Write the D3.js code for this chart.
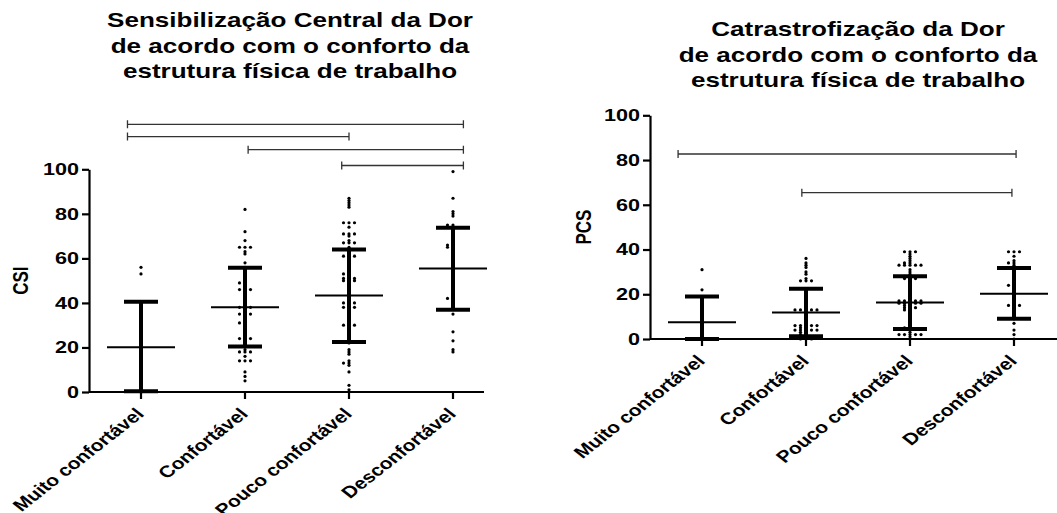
<!DOCTYPE html>
<html>
<head>
<meta charset="utf-8">
<script src="https://cdn.jsdelivr.net/npm/d3@7"></script>
<style>
	body { margin: 0; background: #fff; }
	text { font-family: Arial, "Liberation Sans", sans-serif; font-weight: bold; fill: #000; }
</style>
</head>
<body>
<svg id="chart" width="1057" height="513"></svg>
<script>

const categories = ['Muito confortável', 'Confortável', 'Pouco confortável', 'Desconfortável']

//CSI - individual scores per group
const csiMuito = [56, 53, 8, 1, 0]
const csiConfortavel = [82, 72, 68, 65, 65, 65, 63, 62, 58, 56, 55, 53, 51, 49, 49, 48, 47, 46, 46, 46, 44, 42, 41, 40, 39, 38, 38, 38, 37, 36, 35, 35, 35, 33, 31, 31, 30, 29, 27, 25, 24, 24, 24, 21, 19, 18, 18, 18, 16, 14, 14, 14, 9, 7, 5]
const csiPouco = [87, 86, 85, 84, 83, 76, 76, 76, 74, 71, 71, 71, 70, 68, 67, 67, 67, 65, 62, 61, 61, 61, 60, 59, 57, 56, 55, 54, 53, 53, 52, 51, 51, 51, 50, 50, 50, 48, 47, 46, 44, 43, 42, 41, 40, 40, 40, 39, 38, 38, 38, 37, 35, 34, 33, 31, 30, 30, 30, 29, 28, 27, 25, 23, 22, 19, 18, 17, 14, 13, 13, 12, 9, 3, 1]
const csiDesconfortavel = [99, 87, 81, 80, 79, 75, 75, 74, 70, 68, 66, 66, 65, 65, 62, 60, 57, 55, 52, 48, 47, 43, 42, 42, 40, 35, 27, 23, 19, 18]
const csiMeans = [20.1, 38.1, 43.3, 55.5]
const csiSdHigh = [40.5, 55.8, 64, 73.8]
const csiSdLow = [0.3, 20.4, 22.5, 36.9]
//significance brackets: [from group, to group, height]
const csiBrackets = [[-0.13, 3.1, 120.2], [-0.13, 2.0, 114.7], [1.03, 3.1, 108.8], [1.93, 3.1, 101.7]]

//PCS - individual scores per group
const pcsMuito = [31, 22, 0, 0, 0]
const pcsConfortavel = [36, 34, 33, 32, 30, 29, 27, 26, 26, 26, 21, 20, 19, 18, 17, 16, 14, 13, 13, 13, 13, 13, 12, 10, 9, 8, 7, 6, 6, 6, 6, 6, 5, 5, 4, 4, 4, 4, 4, 3, 3, 2, 2, 1, 1, 0, 0, 0]
const pcsPouco = [39, 39, 39, 38, 37, 36, 35, 34, 34, 33, 33, 33, 33, 33, 31, 30, 29, 28, 28, 27, 27, 27, 26, 25, 24, 23, 22, 21, 20, 19, 18, 17, 17, 17, 17, 17, 16, 16, 16, 16, 16, 15, 15, 14, 14, 14, 13, 13, 12, 11, 10, 9, 8, 7, 6, 5, 5, 4, 3, 2, 2, 2, 2, 2, 1]
const pcsDesconfortavel = [39, 39, 39, 37, 35, 34, 34, 33, 32, 31, 30, 29, 28, 27, 26, 25, 24, 24, 22, 21, 20, 19, 18, 17, 16, 15, 15, 15, 12, 11, 10, 9, 7, 4, 2, 0]
const pcsMeans = [7.5, 11.8, 16.3, 20.2]
const pcsSdHigh = [19, 22.5, 28, 31.7]
const pcsSdLow = [0, 1.2, 4.5, 9]
const pcsBrackets = [[-0.23, 3.02, 82.7], [0.96, 2.98, 65.4]]

const yTicks = [0, 20, 40, 60, 80, 100]

//the original picture is stretched horizontally, texts follow that
const SX = 1.27

const svg = d3.select('#chart')

function drawPanel(p) {
	const g = svg.append('g')

	const x = d3.scaleBand().domain(categories).range([p.left, p.right])
	const y = d3.scaleLinear().domain([0, 100]).range([p.bottom, p.top])
	const xc = d => x(d) + x.bandwidth()/2
	const xPos = d3.scaleLinear().domain([0, 3]).range([xc(categories[0]), xc(categories[3])])

	//title
	p.title.forEach((line, i) => {
		g.append('text')
			.attr('text-anchor', 'middle')
			.attr('font-size', 20.5)
			.attr('transform', 'translate('+p.titleX+','+(p.titleY+i*25.5)+') scale('+SX+',1)')
			.text(line)
	})

	//y axis label
	g.append('text')
		.attr('text-anchor', 'middle')
		.attr('font-size', 17)
		.attr('transform', 'translate('+p.labelX+','+((p.top+p.bottom)/2)+') scale('+SX+',1) rotate(-90)')
		.attr('dy', '0.35em')
		.text(p.label)

	//y axis
	const yAxis = g.append('g')
		.attr('transform', 'translate('+p.left+',0)')
		.call(d3.axisLeft(y).tickValues(yTicks).tickSize(7).tickSizeOuter(0))
	yAxis.select('.domain').attr('stroke-width', 2.2)
	yAxis.selectAll('.tick line').attr('stroke-width', 2.2)
	yAxis.selectAll('.tick text')
		.attr('font-size', 17)
		.attr('font-family', null)
		.attr('x', -10/SX)
		.attr('transform', 'scale('+SX+',1)')

	//x axis
	const xAxis = g.append('g')
		.attr('transform', 'translate(0,'+p.bottom+')')
		.call(d3.axisBottom(x).tickSize(7).tickSizeOuter(0))
	xAxis.select('.domain').attr('stroke-width', 2.2).attr('d', 'M'+p.left+',0H'+p.axisEnd)
	xAxis.selectAll('.tick line').attr('stroke-width', 2.2)
	xAxis.selectAll('.tick text')
		.attr('font-size', 16.5)
		.attr('font-family', null)
		.attr('y', null)
		.attr('dy', null)
		.attr('text-anchor', 'end')
		.attr('transform', 'translate(4,23) scale('+SX+',1) rotate(-45)')

	//scatter points, equal values spread sideways
	p.points.forEach((vals, i) => {
		const counts = {}
		vals.forEach(v => {
			const k = counts[v] || 0
			counts[v] = k+1
			const side = k == 0 ? 0 : (k % 2 == 1 ? -1 : 1)*Math.ceil(k/2)
			g.append('circle')
				.attr('cx', xc(categories[i]) + side*5.5)
				.attr('cy', y(v))
				.attr('r', 1.6)
				.attr('fill', '#000')
		})
	})

	//mean and SD
	categories.forEach((c, i) => {
		const cx = xc(c)
		g.append('line').attr('x1', cx).attr('x2', cx)
			.attr('y1', y(p.sdLow[i])).attr('y2', y(p.sdHigh[i]))
			.attr('stroke', '#000').attr('stroke-width', 4)
		;[p.sdLow[i], p.sdHigh[i]].forEach(v => {
			g.append('line').attr('x1', cx-17).attr('x2', cx+17)
				.attr('y1', y(v)).attr('y2', y(v))
				.attr('stroke', '#000').attr('stroke-width', 4)
		})
		g.append('line').attr('x1', cx-34).attr('x2', cx+34)
			.attr('y1', y(p.means[i])).attr('y2', y(p.means[i]))
			.attr('stroke', '#000').attr('stroke-width', 2)
	})

	//significance brackets
	p.brackets.forEach(b => {
		const x1 = xPos(b[0]), x2 = xPos(b[1]), yy = y(b[2])
		g.append('path')
			.attr('d', 'M'+x1+','+(yy-4)+'V'+(yy+4)+'M'+x1+','+yy+'H'+x2+'M'+x2+','+(yy-4)+'V'+(yy+4))
			.attr('fill', 'none')
			.attr('stroke', '#333')
			.attr('stroke-width', 1.3)
	})
}

drawPanel({
	left: 89, right: 505, axisEnd: 484, top: 169.3, bottom: 392,
	title: ['Sensibilização Central da Dor', 'de acordo com o conforto da', 'estrutura física de trabalho'],
	titleX: 290, titleY: 27,
	label: 'CSI', labelX: 20,
	points: [csiMuito, csiConfortavel, csiPouco, csiDesconfortavel],
	means: csiMeans, sdHigh: csiSdHigh, sdLow: csiSdLow, brackets: csiBrackets
})

drawPanel({
	left: 650, right: 1066, axisEnd: 1057, top: 115.3, bottom: 339,
	title: ['Catrastrofização da Dor', 'de acordo com o conforto da', 'estrutura física de trabalho'],
	titleX: 858, titleY: 36,
	label: 'PCS', labelX: 583,
	points: [pcsMuito, pcsConfortavel, pcsPouco, pcsDesconfortavel],
	means: pcsMeans, sdHigh: pcsSdHigh, sdLow: pcsSdLow, brackets: pcsBrackets
})

</script>
</body>
</html>
